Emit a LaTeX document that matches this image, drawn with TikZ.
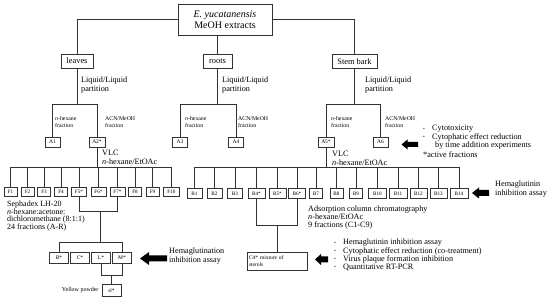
\documentclass[tikz,border=0pt]{standalone}
\usepackage{fontspec}
\setmainfont{Liberation Serif}
\newcommand\blkarrow[6]{\fill[black] (#1,#2) -- ++(#4,-#5) -- ++(0,#5-#6) -- ++(#3-#4,0) -- ++(0,2*#6) -- ++(-#3+#4,0) -- ++(0,#5-#6) -- cycle;}
\begin{document}
\begin{tikzpicture}[x=1pt,y=-1pt]
\tikzset{
 ln/.style={draw=black!80, line width=0.6pt},
 bx/.style={draw=black!80, line width=0.6pt, inner sep=0pt, text=black},
 tbox/.style={bx, line width=0.9pt, minimum width=94pt, minimum height=31pt, align=center, font=\fontsize{10}{11}\selectfont},
 pbox/.style={bx, minimum height=14pt, font=\fontsize{8.4}{9}\selectfont},
 abox/.style={bx, minimum width=15pt, minimum height=10pt, font=\fontsize{5.5}{6}\selectfont},
 fbox/.style={bx, minimum height=9.5pt, font=\fontsize{5.2}{6}\selectfont},
 lbox/.style={bx, minimum width=19pt, minimum height=11pt, font=\fontsize{5.5}{6}\selectfont},
 lbl/.style={anchor=west, align=left, inner sep=0pt, font=\fontsize{8.2}{9}\selectfont},
 slbl/.style={anchor=west, align=left, inner sep=0pt, font=\fontsize{5.8}{7.5}\selectfont},
 bul/.style={anchor=west, inner sep=0pt, font=\fontsize{5}{6}\selectfont},
}
\path[use as bounding box] (0,0) rectangle (550,299);

% top level
\node[tbox] (top) at (225,19.5) {\textit{E. yucatanensis}\\MeOH extracts};
\node[pbox, minimum width=32pt] (leaves) at (77,61) {leaves};
\node[pbox, minimum width=29pt] (roots) at (217.5,61) {roots};
\node[pbox, minimum width=45pt] (stem) at (354.5,61.5) {Stem bark};
\draw[ln] (top.west) -| (leaves.north);
\draw[ln] (top.east) -| (stem.north);
\draw[ln] (top.south -| roots.north) -- (roots.north);

\node[lbl] (ll1) at (81,85.5) {Liquid/Liquid\\partition};
\node[lbl] (ll2) at (222,85.5) {Liquid/Liquid\\partition};
\node[lbl] (ll3) at (365,85.5) {Liquid/Liquid\\partition};

% A level
\node[abox] (A1) at (52.5,142) {A1};
\node[abox, minimum width=16pt] (A2) at (97,142) {A2*};
\node[abox] (A3) at (180,142) {A3};
\node[abox] (A4) at (236,142) {A4};
\node[abox, minimum width=16pt] (A5) at (326,142) {A5*};
\node[abox] (A6) at (380.5,142) {A6};
\coordinate (barA) at (0,104);
\draw[ln] (leaves.south) -- (leaves.south |- barA);
\draw[ln] (roots.south) -- (roots.south |- barA);
\draw[ln] (stem.south) -- (stem.south |- barA);
\draw[ln] (A1.north) -- (A1.north |- barA) -- (A2.north |- barA) -- (A2.north);
\draw[ln] (A3.north) -- (A3.north |- barA) -- (A4.north |- barA) -- (A4.north);
\draw[ln] (A5.north) -- (A5.north |- barA) -- (A6.north |- barA) -- (A6.north);

\node[slbl] (nh1) at (55,122) {\textit{n}-hexane\\fraction};
\node[slbl] (ac1) at (105,122) {ACN/MeOH\\fraction};
\node[slbl] (nh2) at (185,122) {\textit{n}-hexane\\fraction};
\node[slbl] (ac2) at (238,122) {ACN/MeOH\\fraction};
\node[slbl] (nh3) at (331,122) {\textit{n}-hexane\\fraction};
\node[slbl] (ac3) at (385,122) {ACN/MeOH\\fraction};

% top-right notes
\blkarrow{401.5}{144.5}{16.5}{6}{5}{2.5}
\node[bul] (tb1) at (423,129) {\textbullet};
\node[lbl] (tt1) at (432,129) {Cytotoxicity};
\node[bul] (tb2) at (423,137.5) {\textbullet};
\node[lbl] (tt2) at (432,137.5) {Cytophatic effect reduction};
\node[lbl] (tt3) at (435,146) {by time addition experiments};
\node[lbl] (tt4) at (423,154.5) {*active fractions};

% VLC labels
\node[lbl] (vlc1) at (102,157.5) {VLC\\\textit{n}-hexane/EtOAc};
\node[lbl] (vlc2) at (332,158) {VLC\\\textit{n}-hexane/EtOAc};

% F fractions
\coordinate (barF) at (0,167);
\foreach \n/\x/\w/\t in {1/10.5/13/F1, 2/27.5/13/F2, 3/44/13/F3, 4/61/13/F4, 5/79/15/F5*, 6/98.5/15/F6*, 7/117.5/15/F7*, 8/135/13/F8, 9/152.5/13/F9, 10/171.5/16/F10}
  \node[fbox, minimum width=\w pt] (F\n) at (\x,192) {\t};
\draw[ln] (A2.south) -- (A2.south |- barF);
\draw[ln] (F1.north |- barF) -- (F10.north |- barF);
\foreach \n in {1,...,10} \draw[ln] (F\n.north |- barF) -- (F\n.north);

% B fractions
\foreach \n/\x/\w/\t in {1/194.5/15/B1, 2/214.5/15/B2, 3/235/15/B3, 4/256.5/17/B4*, 5/277.5/17/B5*, 6/297/17/B6*, 7/316/13/B7, 8/336.5/13/B8, 9/356/13/B9, 10/377.5/18/B10, 11/398/18/B11, 12/418.5/17/B12, 13/438.5/17/B13, 14/459/18/B14}
  \node[fbox, minimum width=\w pt] (B\n) at (\x,193.5) {\t};
\draw[ln] (A5.south) -- (A5.south |- barF);
\draw[ln] (B1.north |- barF) -- (B14.north |- barF);
\foreach \n in {1,...,14} \draw[ln] (B\n.north |- barF) -- (B\n.north);

\blkarrow{472}{193}{17}{7}{5.5}{3}
\node[lbl, font=\fontsize{8.2}{9.5}\selectfont] (hem1) at (495,189) {Hemaglutinin\\inhibition assay};

% Sephadex branch
\node[lbl, font=\fontsize{8}{7.4}\selectfont] (seph) at (7,216) {Sephadex LH-20\\\textit{n}-hexane:acetone:\\dichloromethane (8:1:1)\\24 fractions (A-R)};
\coordinate (barS) at (0,211);
\coordinate (sm) at (100,211);
\coordinate (barL) at (0,242);
\draw[ln] (F5.south) |- (F7.south |- barS) -- (F7.south);
\node[lbox] (Bs) at (59,257.5) {B*};
\node[lbox] (Cs) at (80,257.5) {C*};
\node[lbox] (Ls) at (101,257.5) {L*};
\node[lbox] (Ms) at (122,257.5) {M*};
\draw[ln] (sm) -- (sm |- barL);
\draw[ln] (Bs.north) |- (Ms.north |- barL) -- (Ms.north);
\coordinate (barLM) at (0,275);
\node[lbox, minimum height=12pt] (sl) at (111.5,290.5) {sl*};
\draw[ln] (Ls.south) |- (Ms.south |- barLM) -- (Ms.south);
\draw[ln] (sl.north |- barLM) -- (sl.north);
\node[anchor=east, inner sep=0pt, font=\fontsize{6}{7}\selectfont] (yp) at ([xshift=-3pt]sl.west) {Yellow powder};

\blkarrow{140}{258.5}{27}{9}{6.5}{3}
\node[lbl] (hem2) at (169,256.5) {Hemaglutination\\inhibition assay};

% Adsorption branch
\node[lbl, font=\fontsize{8.2}{8}\selectfont] (ads) at (308,218) {Adsorption column chromatography\\\textit{n}-hexane/EtOAc\\9 fractions (C1-C9)};
\coordinate (barC) at (0,225);
\draw[ln] (B4.south) |- (B6.south |- barC) -- (B6.south);
\node[bx, minimum width=60pt, minimum height=18pt, text width=56pt, align=left, font=\fontsize{5.5}{7}\selectfont] (C4) at (277,261) {C4* mixture of\\sterols};
\draw[ln] (C4.north |- barC) -- (C4.north);

\blkarrow{315}{259.5}{13}{6}{5.5}{3}
\node[bul] (lb1) at (334,243) {\textbullet};
\node[lbl] (lt1) at (343,243) {Hemaglutinin inhibition assay};
\node[bul] (lb2) at (334,251) {\textbullet};
\node[lbl] (lt2) at (343,251) {Cytophatic effect reduction (co-treatment)};
\node[bul] (lb3) at (334,259.5) {\textbullet};
\node[lbl] (lt3) at (343,259.5) {Virus plaque formation inhibition};
\node[bul] (lb4) at (334,267.5) {\textbullet};
\node[lbl] (lt4) at (343,267.5) {Quantitative RT-PCR};
\end{tikzpicture}
\end{document}
